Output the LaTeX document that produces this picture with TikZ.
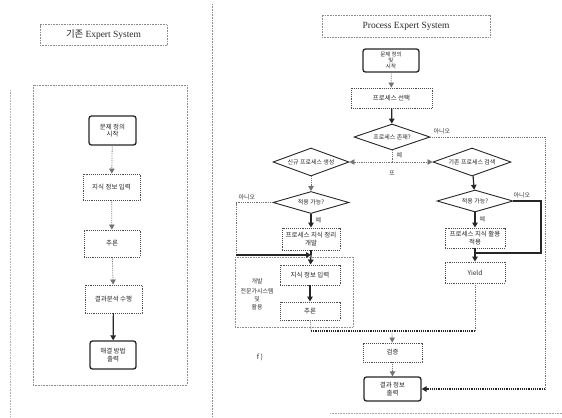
\documentclass[tikz,border=0pt]{standalone}
\usepackage{fontspec}
\setmainfont{Noto Sans CJK KR}
\newfontfamily\titlefont{Liberation Serif}
\usetikzlibrary{shapes.geometric,arrows.meta}
\tikzset{
  frame/.style={draw=black!45, densely dotted, line width=0.6bp},
  pbox/.style={draw=black!70, densely dotted, line width=0.9bp, fill=white,
    inner sep=1bp, align=center, font=\fontsize{6.5}{7.5}\selectfont, text=black!85},
  tbox/.style={draw=black!85, line width=1.3bp, rounded corners=2.5bp, fill=white,
    inner sep=1bp, align=center, font=\fontsize{6.5}{7.5}\selectfont, text=black!85},
  dbox/.style={diamond, aspect=3, draw=black!85, line width=0.9bp, fill=white,
    inner sep=0bp, align=center, font=\fontsize{6}{7}\selectfont, text=black!85},
  lbl/.style={font=\fontsize{6}{7}\selectfont, text=black!80, inner sep=0.5bp},
  ttl/.style={frame, inner sep=0bp, font=\fontsize{9.5}{11}\selectfont, text=black!85},
  thin/.style={draw=black!55, densely dotted, line width=0.8bp},
  heavy/.style={draw=black!85, line width=1.2bp},
  tip/.style={-{Triangle[width=5.5bp,length=5bp]}},
}
\begin{document}
\begin{tikzpicture}[x=1bp,y=-1bp]
\useasboundingbox (0,0) rectangle (562,417);

% separators and frames
\draw[frame] (212,4) -- (212,417);
\draw[frame, draw=black!30] (10,90) -- (10,417);
\draw[frame, draw=black!35] (330,413) -- (562,413);

% ---------- left: conventional expert system ----------
\node[ttl, minimum width=127bp, minimum height=21bp] (ltitle) at (103.5,35) {기존 {\titlefont Expert System}};
\draw[frame] (33,85) rectangle (187,385);

\node[tbox, minimum width=47bp, minimum height=29bp] (l1) at (112.5,130.5) {문제 정의\\시작};
\node[pbox, minimum width=57bp, minimum height=26bp] (l2) at (111.5,187) {지식 정보 입력};
\node[pbox, minimum width=56bp, minimum height=27bp] (l3) at (112,243.5) {추론};
\node[pbox, minimum width=57bp, minimum height=28bp] (l4) at (113.5,299) {결과분석 수행};
\node[tbox, minimum width=46bp, minimum height=28bp] (l5) at (113,355) {해결 방법\\출력};

\draw[thin, tip] (l1) -- (l2);
\draw[thin, tip] (l2) -- (l3);
\draw[thin, tip] (l3) -- (l4);
\draw[heavy, tip] (l4) -- (l5);

% ---------- right: process expert system ----------
\node[ttl, minimum width=168bp, minimum height=22bp, font=\titlefont\fontsize{9.5}{11}\selectfont] (rtitle) at (406,26) {Process Expert System};

\node[tbox, minimum width=56bp, minimum height=23bp, font=\fontsize{5.5}{6}\selectfont] (r0) at (391,60.5) {문제 정의\\및\\시작};
\node[pbox, minimum width=81bp, minimum height=20bp] (r1) at (391.5,98) {프로세스 선택};
\node[dbox, minimum width=76bp, minimum height=26bp] (d1) at (392,137) {프로세스 존재?};

\node[dbox, minimum width=76bp, minimum height=28bp] (d2) at (311,162) {신규 프로세스 생성};
\node[dbox, minimum width=78bp, minimum height=28bp] (d3) at (472,162) {기존 프로세스 검색};

\node[dbox, minimum width=76bp, minimum height=22bp] (d4) at (311,202.5) {적용 가능?};
\node[dbox, minimum width=76bp, minimum height=22bp] (d5) at (475,201) {적용 가능?};

\node[pbox, minimum width=58bp, minimum height=22bp] (lb) at (311,239) {프로세스 지식 정리\\개발};
\node[pbox, minimum width=60bp, minimum height=20bp] (rb) at (475,238) {프로세스 지식 활용\\적용};
\node[pbox, minimum width=60bp, minimum height=21bp] (yld) at (475,272.5) {Yield};

% expert system development group
\draw[frame] (235,257) rectangle (353,327);
\node[pbox, minimum width=60bp, minimum height=20bp] (kin) at (310,275) {지식 정보 입력};
\node[pbox, minimum width=60bp, minimum height=18bp] (inf) at (310,311) {추론};
\node[lbl, align=center] (glab) at (257,294) {개발\\[3bp]전문가시스템\\[1bp]및\\[1bp]활용};
\node[lbl, font=\fontsize{7}{8}\selectfont] (fmark) at (260,357) {f )};

\node[pbox, minimum width=59bp, minimum height=19bp] (res) at (392.5,352.5) {검증};
\node[tbox, minimum width=57bp, minimum height=24bp] (fin) at (392.5,389) {결과 정보\\출력};

% junction points
\coordinate (split) at (392,162);
\coordinate (rr) at (545,389);
\coordinate (lc) at (236,255);
\coordinate (m1) at (311,255);
\coordinate (rc) at (541,253);
\coordinate (m2) at (475,253);
\coordinate (j1) at (311,331);
\coordinate (j2) at (475,331);
\coordinate (j0) at (392,331);

% main trunk
\draw[thin, tip] (r0) -- (r1);
\draw[heavy, tip] (r1) -- (d1);
\draw[thin] (d1.east) -| (rr);
\draw[heavy, densely dotted, tip] (rr) -- (fin.east);
\node[lbl, anchor=south west] (no1) at (433,135) {아니오};
\node[lbl, anchor=west] (yes1) at (396,155) {예};

\draw[thin] (d1.south) -- (split);
\draw[thin, tip] (split) -- (d2.east);
\draw[thin, tip] (split) -- (d3.west);
\node[lbl] (or1) at (392,173) {또};

% new-process branch
\draw[thin, tip] (d2) -- (d4);
\draw[heavy, tip] (d4) -- (lb);
\node[lbl, anchor=west] (yes2) at (315,220) {예};
\draw[thin] (d4.west) -| (lc);
\draw[heavy, tip] (lc) -- (m1);
\node[lbl, anchor=south west] (no2) at (238,201) {아니오};
\draw[heavy] (lb) -- (m1);
\draw[heavy, tip] (m1) -- (kin);
\draw[heavy, tip] (kin) -- (inf);
\draw[thin] (inf) -- (j1);

% existing-process branch
\draw[heavy, tip] (d3) -- (d5);
\draw[heavy, tip] (d5) -- (rb);
\node[lbl, anchor=west] (yes3) at (479,219) {예};
\draw[heavy] (d5.east) -| (rc) -- (m2);
\node[lbl, anchor=south west] (no3) at (513,199) {아니오};
\draw[heavy, tip] (rb) -- (yld);
\draw[thin] (yld) -- (j2);

% merge
\draw[heavy, densely dotted] (j1) -- (j2);
\draw[thin, tip] (j0) -- (res);
\draw[thin, tip] (res) -- (fin);
\end{tikzpicture}
\end{document}
